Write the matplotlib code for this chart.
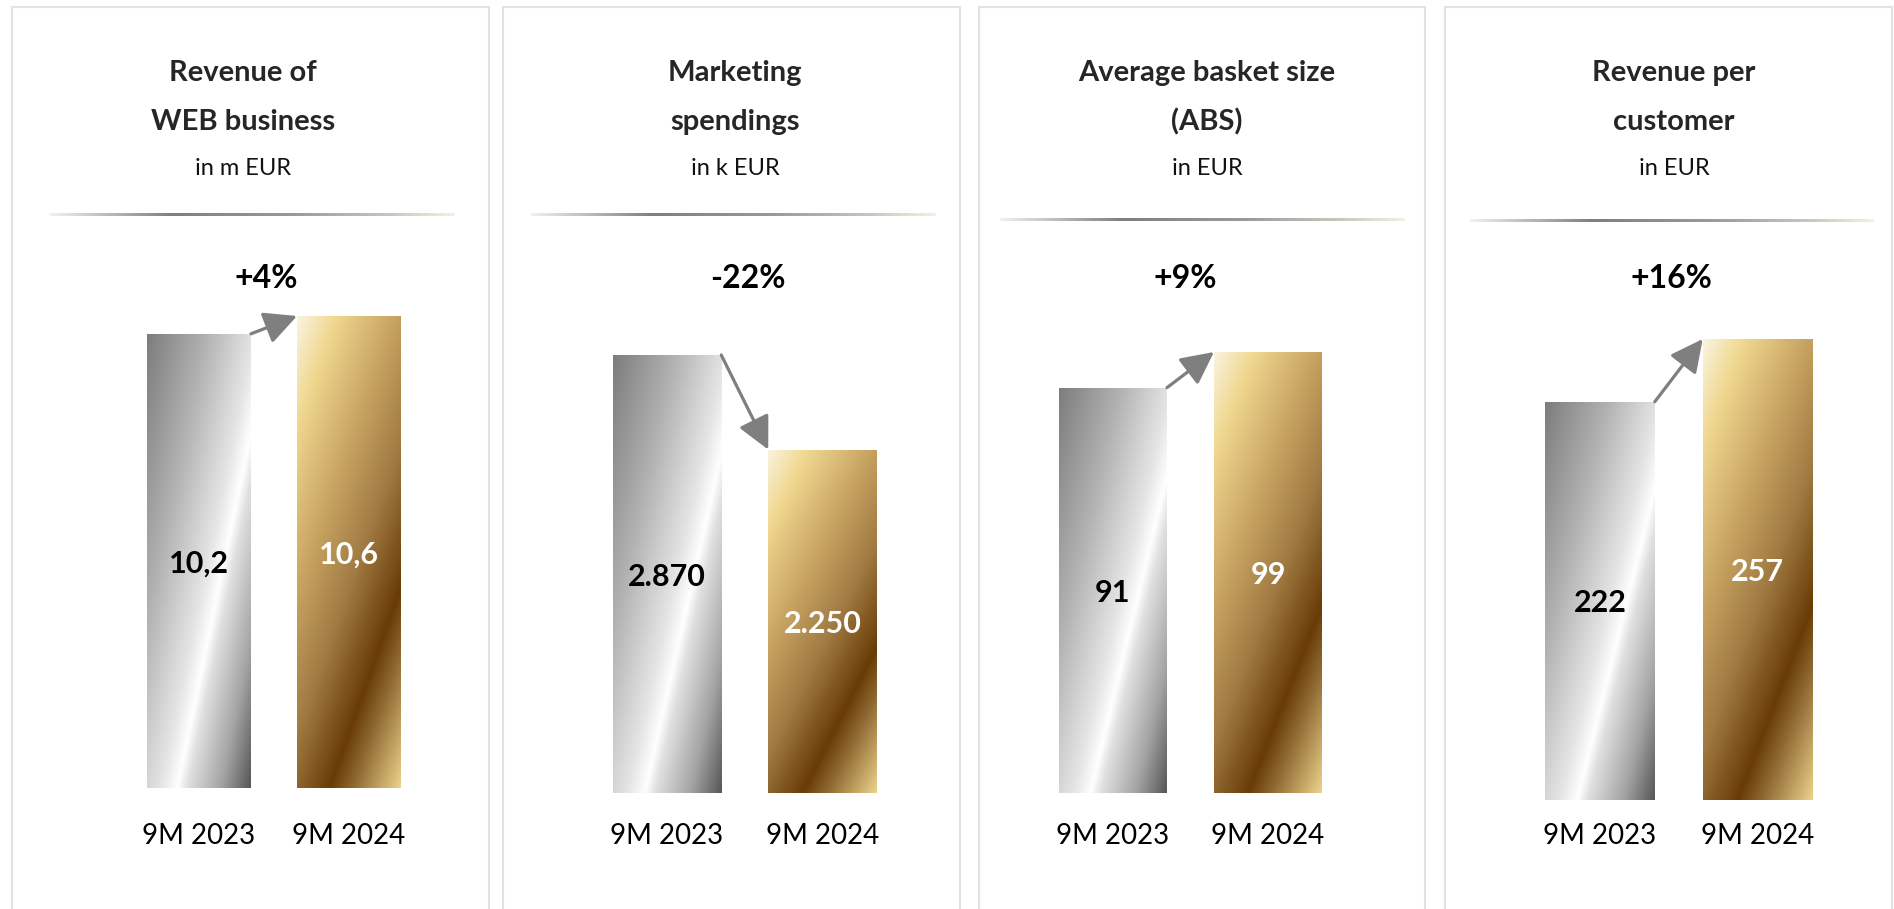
import numpy as np
import matplotlib
matplotlib.use('Agg')
import matplotlib.pyplot as plt
from matplotlib.colors import LinearSegmentedColormap
from matplotlib.patches import Rectangle

plt.rcParams['font.family'] = ['Lato', 'DejaVu Sans']

W, H = 1894, 909

#%% data

periods = ['9M 2023', '9M 2024']

titles = [['Revenue of', 'WEB business'],
          ['Marketing', 'spendings'],
          ['Average basket size', '(ABS)'],
          ['Revenue per', 'customer']]
units = ['in m EUR', 'in k EUR', 'in EUR', 'in EUR']

web_revenue = [10.2, 10.6]
marketing_spend = [2870, 2250]
basket_size = [91, 99]
revenue_per_customer = [222, 257]

series = [web_revenue, marketing_spend, basket_size, revenue_per_customer]
decimals = [1, 0, 0, 0]

#%% card layout (pixels)

cards = [
    dict(box=(12, 489), c=(199, 349), w=104, base=788, top=472, tx=243, line=(50, 454, 215), px=266),
    dict(box=(503, 960), c=(667, 822.5), w=108.5, base=793, top=438, tx=735, line=(531, 935, 215), px=748),
    dict(box=(979, 1425), c=(1113, 1268), w=108, base=793, top=441, tx=1207, line=(1000, 1404, 220), px=1185),
    dict(box=(1445, 1892), c=(1600, 1757.5), w=109.5, base=800, top=461, tx=1674, line=(1470, 1874, 221), px=1671),
]

silver = LinearSegmentedColormap.from_list('silver', [
    (0.0, '#7d7d7d'), (0.3, '#b2b2b2'), (0.55, '#e6e6e6'), (0.63, '#ffffff'),
    (0.68, '#e0e0e0'), (0.85, '#a4a4a4'), (1.0, '#575757')])
gold = LinearSegmentedColormap.from_list('gold', [
    (0.0, '#faf4e0'), (0.14, '#f0d890'), (0.35, '#caa664'), (0.55, '#a07a42'),
    (0.74, '#693c06'), (0.82, '#8c6630'), (1.0, '#ecd28a')])
rule = LinearSegmentedColormap.from_list('rule', [
    (0.0, '#f0f0f0'), (0.3, '#7f7f7f'), (0.6, '#9a9a9a'), (0.85, '#cbc8bf'), (1.0, '#f4f1e2')])


def fx(p):
    return p / W


def fy(p):
    return 1 - p / H


def fmt(v, d):
    s = f'{v:,.{d}f}'
    return s.replace(',', 'X').replace('.', ',').replace('X', '.')


def shade(ax, bar, cmap, k):
    x0, y0 = bar.get_xy()
    bw, bh = bar.get_width(), bar.get_height()
    u = np.linspace(0, 1, 200)[None, :]
    v = np.linspace(0, 1, 700)[:, None]
    t = (u + k * v) / (1 + k)
    im = ax.imshow(t, cmap=cmap, vmin=0, vmax=1, extent=(x0, x0 + bw, y0, y0 + bh),
                   origin='upper', aspect='auto', interpolation='bilinear', zorder=2)
    im.set_clip_path(bar)


fig = plt.figure(figsize=(W / 100, H / 100), dpi=100)
fig.patch.set_facecolor('white')

for i, cd in enumerate(cards):
    vals = series[i]
    l, r = cd['box']
    fig.patches.append(Rectangle((fx(l), fy(H + 10)), fx(r - l), (H + 10 - 7) / H,
                                 transform=fig.transFigure, fill=False,
                                 edgecolor='#e2e2e2', lw=1.5))

    # headings
    fig.text(fx(cd['tx']), fy(81), titles[i][0], ha='center', va='baseline',
             fontsize=21, fontweight='bold', color='#262626')
    fig.text(fx(cd['tx']), fy(130), titles[i][1], ha='center', va='baseline',
             fontsize=21, fontweight='bold', color='#262626')
    fig.text(fx(cd['tx']), fy(175), units[i], ha='center', va='baseline',
             fontsize=17, color='#111111')

    # gradient rule under the heading
    x0, x1, yl = cd['line']
    axl = fig.add_axes([fx(x0), fy(yl + 1.5), fx(x1 - x0), 3 / H])
    axl.imshow(np.linspace(0, 1, 400)[None, :], cmap=rule, aspect='auto',
               interpolation='bilinear')
    axl.axis('off')

    # change in percent
    chg = round((vals[1] / vals[0] - 1) * 100)
    fig.text(fx(cd['px']), fy(288), f'{chg:+d}%', ha='center', va='baseline',
             fontsize=23, fontweight='bold', color='black')

    # bars
    c0, c1 = cd['c']
    d = c1 - c0
    ax = fig.add_axes([fx(c0 - 0.5 * d), fy(cd['base']), fx(2 * d), cd['top'] / H])
    bw = cd['w'] / d
    bars = ax.bar([0, 1], vals, width=bw, color='none', edgecolor='none')
    shade(ax, bars[0], silver, 0.91)
    shade(ax, bars[1], gold, 1.62)
    ax.set_xlim(-0.5, 1.5)
    ax.set_ylim(0, max(vals))
    ax.patch.set_alpha(0)
    for s in ax.spines.values():
        s.set_visible(False)
    ax.set_yticks([])
    ax.set_xticks([0, 1])
    pad_px = 823 - cd['base']
    ax.set_xticklabels(periods, fontsize=20, color='black')
    ax.tick_params(axis='x', length=0, pad=pad_px * 72 / 100)

    for j, v in enumerate(vals):
        ax.text(j, v / 2, fmt(v, decimals[i]), ha='center', va='center_baseline',
                fontsize=22, fontweight='bold', color='black' if j == 0 else 'white',
                zorder=3)

    ax.annotate('', xy=(1 - bw / 2, vals[1]), xytext=(bw / 2, vals[0]),
                annotation_clip=False,
                arrowprops=dict(arrowstyle='-|>,head_length=0.4,head_width=0.2',
                                mutation_scale=50, color='#7f7f7f', lw=2.3,
                                shrinkA=0, shrinkB=0))

fig.savefig('out.png', dpi=100, facecolor='white')
